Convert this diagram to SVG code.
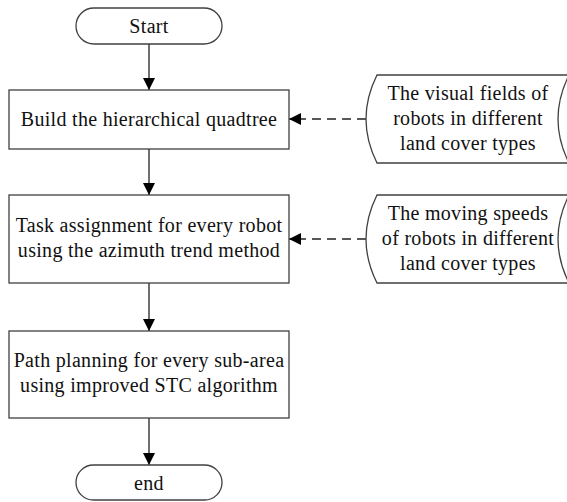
<svg xmlns="http://www.w3.org/2000/svg" width="567" height="502" viewBox="0 0 567 502">
<defs>
<style>
.box{fill:#fff;stroke:#404040;stroke-width:1.3}
.t{font-family:'Liberation Serif','Times New Roman',serif;font-size:20px;fill:#111;text-anchor:middle;letter-spacing:0.3px}
.ln{stroke:#222;stroke-width:1.3;fill:none}
.dash{stroke:#222;stroke-width:1.3;fill:none;stroke-dasharray:9 6}
</style>
<marker id="ah" viewBox="0 0 12 12" refX="12" refY="6" markerWidth="12" markerHeight="12" markerUnits="userSpaceOnUse" orient="auto">
<path d="M0,0 L12,6 L0,12 Z" fill="#000"/>
</marker>
</defs>
<rect width="567" height="502" fill="#fff"/>
<g id="connectors">
<line class="ln" x1="149" y1="44" x2="149" y2="90" marker-end="url(#ah)"/>
<line class="ln" x1="149" y1="149" x2="149" y2="195" marker-end="url(#ah)"/>
<line class="ln" x1="149" y1="283" x2="149" y2="331" marker-end="url(#ah)"/>
<line class="ln" x1="149" y1="418" x2="149" y2="465" marker-end="url(#ah)"/>
<line class="dash" x1="366" y1="119" x2="289" y2="119" marker-end="url(#ah)"/>
<line class="dash" x1="366" y1="239" x2="289" y2="239" marker-end="url(#ah)"/>
</g>
<g id="start">
<rect class="box" x="76" y="8" width="146" height="36" rx="18"/>
<text class="t" x="149" y="33" font-family="Liberation Serif, serif">Start</text>
</g>
<g id="build">
<rect class="box" x="9" y="90" width="280" height="59"/>
<text class="t" x="149" y="126" font-family="Liberation Serif, serif">Build the hierarchical quadtree</text>
</g>
<g id="task">
<rect class="box" x="9" y="195" width="280" height="88"/>
<text class="t" x="149" y="232">Task assignment for every robot</text>
<text class="t" x="149" y="257">using the azimuth trend method</text>
</g>
<g id="path">
<rect class="box" x="9" y="331" width="280" height="87"/>
<text class="t" x="149" y="367">Path planning for every sub-area</text>
<text class="t" x="149" y="392">using improved STC algorithm</text>
</g>
<g id="end">
<rect class="box" x="76" y="465" width="146" height="35" rx="17.5"/>
<text class="t" x="149" y="490">end</text>
</g>
<g id="visual">
<path class="box" d="M377,75 L569,75 Q547,119 569,163 L377,163 Q355,119 377,75 Z"/>
<text class="t" x="468" y="100">The visual fields of</text>
<text class="t" x="468" y="125">robots in different</text>
<text class="t" x="468" y="150">land cover types</text>
</g>
<g id="speeds">
<path class="box" d="M377,195 L569,195 Q547,239 569,283 L377,283 Q355,239 377,195 Z"/>
<text class="t" x="468" y="220">The moving speeds</text>
<text class="t" x="468" y="245">of robots in different</text>
<text class="t" x="468" y="270">land cover types</text>
</g>
</svg>
